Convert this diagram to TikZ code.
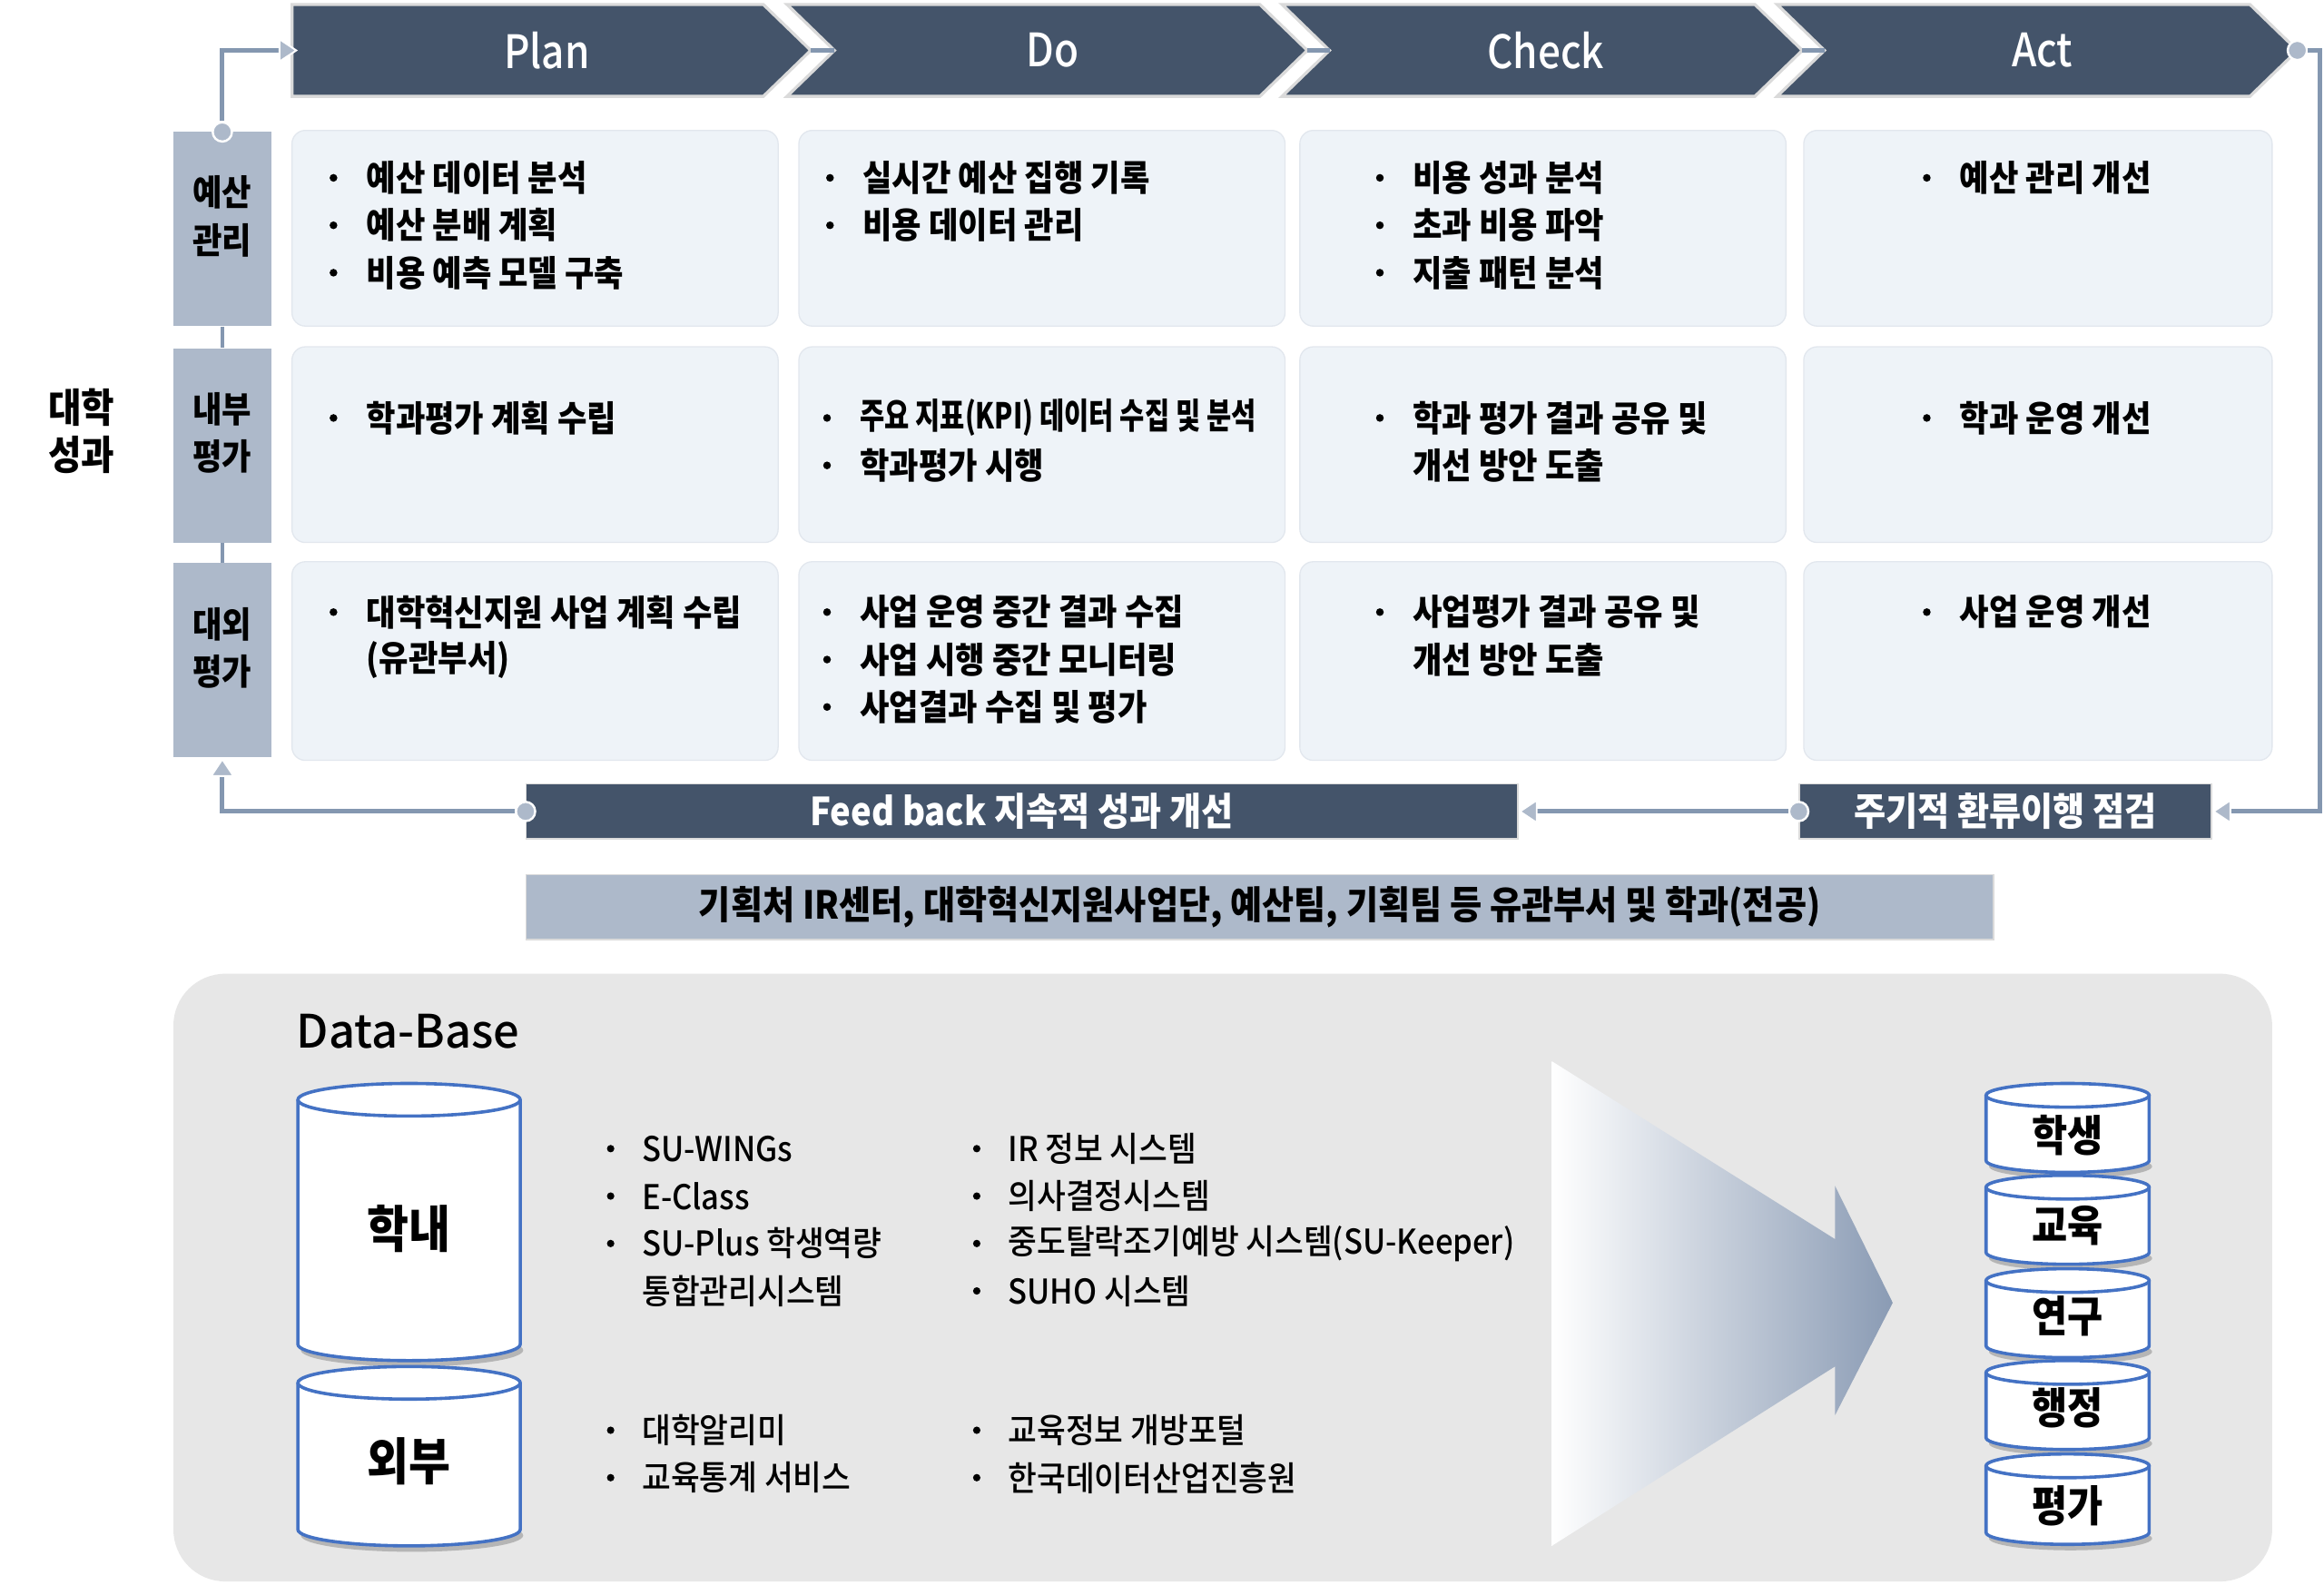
\documentclass[tikz,border=0pt]{standalone}
\usepackage{fontspec}
\usepackage{graphicx}
\setmainfont[FakeStretch=0.9]{Noto Sans CJK KR}
\newfontfamily\dbfont[FakeStretch=0.92]{Noto Sans CJK KR Medium}
\newfontfamily\medfont[FakeStretch=0.87]{Noto Sans CJK KR Medium}
\newfontfamily\titfont[FakeStretch=1.0]{Noto Sans CJK KR Medium}
\usetikzlibrary{arrows.meta}
\definecolor{dark}{HTML}{44546A}
\definecolor{mid}{HTML}{ADB9CA}
\definecolor{linec}{HTML}{8497B0}
\definecolor{cellfill}{HTML}{EEF3F8}
\definecolor{cellline}{HTML}{E2E7EE}
\definecolor{panel}{HTML}{E7E7E7}
\definecolor{cylc}{HTML}{4472C4}
\definecolor{chevline}{HTML}{DADADA}
\definecolor{arrowc}{HTML}{8A9BB4}
\definecolor{arrowm}{HTML}{B4C0D0}
\tikzset{
  chev/.style={fill=dark, draw=chevline, line width=2pt, line join=miter},
  chevtxt/.style={text=white, inner sep=0, font=\medfont\fontsize{31}{34}\selectfont},
  cell/.style={fill=cellfill, draw=cellline, line width=0.8pt, rounded corners=9pt, inner sep=0},
  rowlab/.style={fill=mid, inner sep=0, minimum width=66pt, minimum height=131pt},
  rowtxt/.style={inner sep=0, align=center, font=\bfseries\fontsize{24}{32}\selectfont},
  ct/.style={inner sep=0, anchor=west, font=\bfseries\fontsize{24}{26}\selectfont},
  dt/.style={inner sep=0, anchor=west, font=\dbfont\fontsize{23}{26}\selectfont},
  fbbox/.style={fill=dark, draw=chevline, line width=0.8pt, inner sep=0, minimum height=37pt, text=white, font=\bfseries\fontsize{26}{28}\selectfont},
  banner/.style={fill=mid, draw=chevline, line width=0.8pt, inner sep=0, minimum height=44pt, font=\bfseries\fontsize{26}{28}\selectfont},
  conn/.style={draw=linec, line width=3pt},
  tipa/.style={-{Triangle[length=13pt,width=17pt,color=white,fill=mid,line width=1.2pt]}},
  dot/.style={circle, minimum size=13pt, inner sep=0, fill=mid, draw=white, line width=1.5pt},
  cyltxt/.style={inner sep=0, font=\bfseries\fontsize{34}{36}\selectfont},
  scyltxt/.style={inner sep=0, font=\bfseries\fontsize{29}{30}\selectfont},
}
\newcommand\bitem[4]{\fill (#2-22,#3) circle (2.6pt); \node[ct] (#1) at (#2,#3) {#4};}
\newcommand\citem[4]{\node[ct] (#1) at (#2,#3) {#4};}
\newcommand\ditem[4]{\fill (#2-21,#3) circle (2.5pt); \node[dt] (#1) at (#2,#3) {#4};}
\newcommand\dcont[4]{\node[dt] (#1) at (#2,#3) {#4};}
% name, cx, top-center y, bottom-center y, rx, ry, text y, style, text
\newcommand\dbcyl[9]{%
  \fill[black!45, opacity=0.55] (#2+2,#4+4) ellipse (#5pt and #6pt);
  \path[fill=white, draw=cylc, line width=2.2pt] (#2-#5,#3) -- (#2-#5,#4)
     .. controls (#2-#5,#4+0.5523*#6) and (#2-0.5523*#5,#4+#6) .. (#2,#4+#6)
     .. controls (#2+0.5523*#5,#4+#6) and (#2+#5,#4+0.5523*#6) .. (#2+#5,#4) -- (#2+#5,#3);
  \draw[fill=white, draw=cylc, line width=2.2pt] (#2,#3) ellipse (#5pt and #6pt);
  \node[#8] (#1) at (#2,#7) {#9};}
\begin{document}
\begin{tikzpicture}[x=1pt,y=-1pt]
\useasboundingbox (0,0) rectangle (1568,1069);
\fill[white] (0,0) rectangle (1568,1069);

% ---------- chevrons ----------
\path[chev] (197,3) -- (515,3) -- (547,34) -- (515,65) -- (197,65) -- cycle;
\path[chev] (531,3) -- (850,3) -- (882,34) -- (850,65) -- (531,65) -- (563,34) -- cycle;
\path[chev] (865,3) -- (1184,3) -- (1216,34) -- (1184,65) -- (865,65) -- (897,34) -- cycle;
\path[chev] (1199,3) -- (1518,3) -- (1550,34) -- (1518,65) -- (1199,65) -- (1231,34) -- cycle;
\node[chevtxt] (tplan) at (369,34) {Plan};
\node[chevtxt] (tdo) at (710,34) {Do};
\node[chevtxt] (tcheck) at (1043,34) {Check};
\node[chevtxt] (tact) at (1378,34) {Act};
\coordinate (planT) at (547,34); \coordinate (doN) at (563,34);
\coordinate (doT) at (882,34); \coordinate (checkN) at (897,34);
\coordinate (checkT) at (1216,34); \coordinate (actN) at (1231,34);
\draw[conn] (planT) -- (doN);
\draw[conn] (doT) -- (checkN);
\draw[conn] (checkT) -- (actN);

% ---------- row labels ----------
\node[rowlab] (lab1) at (150,154.5) {};
\node[rowlab] (lab2) at (150,300.5) {};
\node[rowlab] (lab3) at (150,445.5) {};
\draw[draw=linec, line width=2.5pt] (lab1.south) -- (lab2.north);
\draw[draw=linec, line width=2.5pt] (lab2.south) -- (lab3.north);
\node[rowtxt] (lab1t) at (150,146) {예산\\관리};
\node[rowtxt] (lab2t) at (150,292) {내부\\평가};
\node[rowtxt] (lab3t) at (150,437) {대외\\평가};
\node[inner sep=0, align=center, font=\bfseries\fontsize{27}{32}\selectfont] (perf) at (55,291) {대학\\성과};

% ---------- cells ----------
\node[cell, minimum width=328pt, minimum height=132pt] (c11) at (361,154) {};
\node[cell, minimum width=328pt, minimum height=132pt] (c12) at (703,154) {};
\node[cell, minimum width=328pt, minimum height=132pt] (c13) at (1041,154) {};
\node[cell, minimum width=316pt, minimum height=132pt] (c14) at (1375,154) {};
\node[cell, minimum width=328pt, minimum height=132pt] (c21) at (361,300) {};
\node[cell, minimum width=328pt, minimum height=132pt] (c22) at (703,300) {};
\node[cell, minimum width=328pt, minimum height=132pt] (c23) at (1041,300) {};
\node[cell, minimum width=316pt, minimum height=132pt] (c24) at (1375,300) {};
\node[cell, minimum width=328pt, minimum height=134pt] (c31) at (361,446) {};
\node[cell, minimum width=328pt, minimum height=134pt] (c32) at (703,446) {};
\node[cell, minimum width=328pt, minimum height=134pt] (c33) at (1041,446) {};
\node[cell, minimum width=316pt, minimum height=134pt] (c34) at (1375,446) {};

% row 1
\bitem{a1}{247}{120}{예산 데이터 분석}
\bitem{a2}{247}{152}{예산 분배 계획}
\bitem{a3}{247}{184}{비용 예측 모델 구축}
\bitem{b1}{582}{120}{실시간 예산 집행 기록}
\bitem{b2}{582}{152}{비용 데이터 관리}
\bitem{e1}{953}{120}{비용 성과 분석}
\bitem{e2}{953}{152}{초과 비용 파악}
\bitem{e3}{953}{184}{지출 패턴 분석}
\bitem{f1}{1322}{120}{예산 관리 개선}
% row 2
\bitem{a4}{247}{282}{학과평가 계획 수립}
\bitem{b3}{580}{282}{\scalebox{0.84}[1]{주요 지표(KPI) 데이터 수집 및 분석}}
\bitem{b4}{580}{314}{학과평가 시행}
\bitem{e4}{953}{282}{학과 평가 결과 공유 및}
\citem{e5}{953}{314}{개선 방안 도출}
\bitem{f2}{1322}{282}{학과 운영 개선}
% row 3
\bitem{a5}{247}{413}{대학혁신지원 사업 계획 수립}
\citem{a6}{247}{445}{(유관부서)}
\bitem{b5}{580}{413}{사업 운영 중간 결과 수집}
\bitem{b6}{580}{445}{사업 시행 중간 모니터링}
\bitem{b7}{580}{477}{사업결과 수집 및 평가}
\bitem{e6}{953}{413}{사업평가 결과 공유 및}
\citem{e7}{953}{445}{개선 방안 도출}
\bitem{f3}{1322}{413}{사업 운영 개선}

% ---------- feedback row ----------
\node[fbbox, minimum width=669pt] (fb1) at (689.5,547.5) {Feed back 지속적 성과 개선};
\node[fbbox, minimum width=278pt] (fb2) at (1353,547.5) {주기적 환류이행 점검};
\node[banner, minimum width=990pt] (bn) at (850,612) {기획처 IR센터, 대학혁신지원사업단, 예산팀, 기획팀 등 유관부서 및 학과(전공)};

% ---------- loop connectors ----------
\node[dot] (d1) at (150,89) {};
\coordinate (planL) at (201,34);
\draw[conn, tipa] (d1) |- (planL);
\node[dot] (d2) at (1550,34) {};
\coordinate (rr) at (1565,34);
\draw[conn, tipa] (d2) -- (rr) |- (fb2.east);
\node[dot] (d3) at (fb2.west) {};
\draw[conn, tipa] (d3) -- (fb1.east);
\node[dot] (d4) at (fb1.west) {};
\draw[conn, tipa] (d4) -| (lab3.south);

% ---------- database panel ----------
\fill[panel, rounded corners=35pt] (117,657) rectangle (1533,1067);
\node[inner sep=0, anchor=west, font=\titfont\fontsize{31}{34}\selectfont] (dbt) at (200,696) {Data-Base};

\dbcyl{cyl1}{276}{742}{907}{75}{11}{829}{cyltxt}{학내}
\dbcyl{cyl2}{276}{933}{1032}{75}{11}{986}{cyltxt}{외부}

\ditem{g1}{433}{775}{SU-WINGs}
\ditem{g2}{433}{807}{E-Class}
\ditem{g3}{433}{839}{SU-Plus 학생역량}
\dcont{g4}{433}{871}{통합관리시스템}
\ditem{h1}{680}{775}{IR 정보 시스템}
\ditem{h2}{680}{807}{의사결정시스템}
\ditem{h3}{680}{839}{중도탈락조기예방 시스템(SU-Keeper)}
\ditem{h4}{680}{871}{SUHO 시스템}
\ditem{g5}{433}{965}{대학알리미}
\ditem{g6}{433}{997}{교육통계 서비스}
\ditem{h5}{680}{965}{교육정보 개방포털}
\ditem{h6}{680}{997}{한국데이터산업진흥원}

% big arrow
\shade[left color=white, middle color=arrowm, right color=arrowc]
  (1047,716) -- (1238,836) -- (1238,800) -- (1277,879) -- (1238,955) -- (1238,922) -- (1047,1043) -- cycle;

% stacked cylinders
\dbcyl{s1}{1395}{739}{783}{55}{8}{766}{scyltxt}{학생}
\dbcyl{s2}{1395}{801}{845}{55}{8}{827}{scyltxt}{교육}
\dbcyl{s3}{1395}{864}{908}{55}{8}{888}{scyltxt}{연구}
\dbcyl{s4}{1395}{926}{970}{55}{8}{950}{scyltxt}{행정}
\dbcyl{s5}{1395}{989}{1034}{55}{8}{1016}{scyltxt}{평가}
\end{tikzpicture}
\end{document}
